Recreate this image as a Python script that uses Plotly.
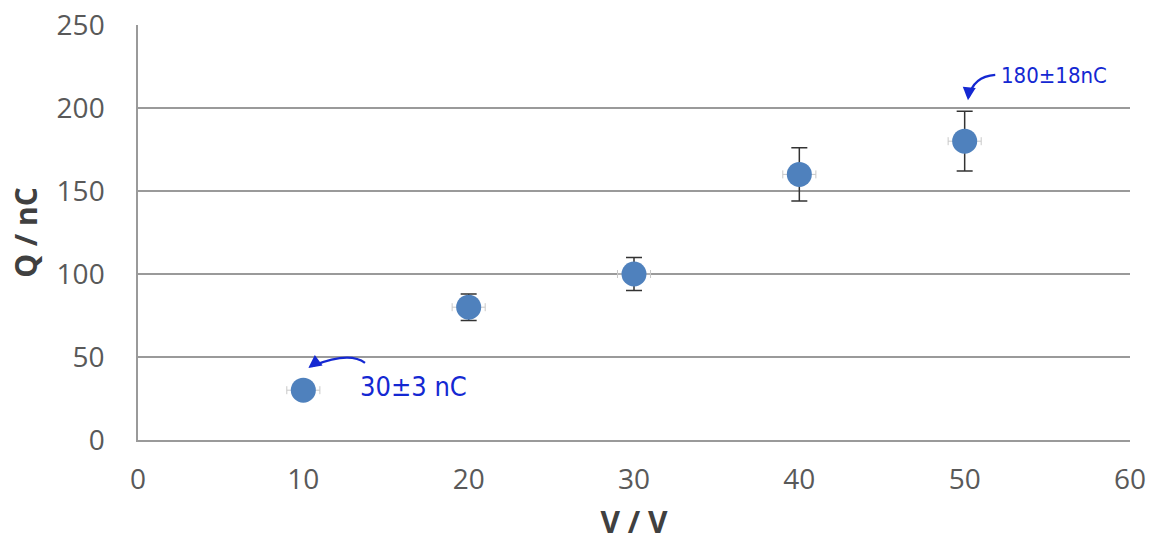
import plotly.graph_objects as go

voltage = [10, 20, 30, 40, 50]
charge = [30, 80, 100, 160, 180]
charge_err = [3, 8, 10, 16, 18]
voltage_err = [1, 1, 1, 1, 1]

x_ticks = [0, 10, 20, 30, 40, 50, 60]
y_ticks = [0, 50, 100, 150, 200, 250]

fig = go.Figure()

# faint horizontal (voltage) error bars
fig.add_trace(go.Scatter(
    x=voltage, y=charge, mode="markers",
    marker=dict(size=1, color="rgba(0,0,0,0)"),
    error_x=dict(type="data", array=voltage_err, color="#c8c8c8", thickness=1, width=4),
    showlegend=False, hoverinfo="skip"))

fig.add_trace(go.Scatter(
    x=voltage, y=charge, mode="markers",
    marker=dict(size=25, color="#4F81BD", line=dict(width=0)),
    error_y=dict(type="data", array=charge_err, color="#333333", thickness=1.5, width=8),
    showlegend=False))

hand_font = dict(family="DejaVu Sans Condensed, DejaVu Sans, sans-serif",
                 size=27, color="#1428D2")
hand_font_small = dict(family="DejaVu Sans Condensed, DejaVu Sans, sans-serif",
                       size=22, color="#1428D2")

fig.add_annotation(x=16.65, y=32.5, text="30±3 nC", showarrow=False, font=hand_font)
fig.add_annotation(x=55.4, y=219.3, text="180±18nC", showarrow=False, font=hand_font_small)

# curved arrow bodies
fig.add_shape(type="path", path="M 13.73 46.4 Q 12.8 53.5 10.6 44.8",
              line=dict(color="#1428D2", width=2.2))
fig.add_shape(type="path", path="M 51.85 220 Q 50.5 219 50.25 206.5",
              line=dict(color="#1428D2", width=2.2))
# arrowheads
fig.add_annotation(x=10.3, y=43.3, ax=8, ay=-6, text="", showarrow=True,
                   arrowhead=2, arrowsize=1.3, arrowwidth=2, arrowcolor="#1428D2")
fig.add_annotation(x=50.2, y=204.6, ax=1, ay=-10, text="", showarrow=True,
                   arrowhead=2, arrowsize=1.3, arrowwidth=2, arrowcolor="#1428D2")

axis_font = dict(family="Open Sans, Liberation Sans, sans-serif", size=28, color="#595959")
title_font = dict(family="Open Sans, Liberation Sans, sans-serif", size=30, color="#404040")

fig.update_layout(
    width=1154, height=542,
    margin=dict(l=138, r=24, t=25, b=102),
    paper_bgcolor="white", plot_bgcolor="white",
    xaxis=dict(range=[0, 60], tickvals=x_ticks, ticktext=[str(v) for v in x_ticks],
               automargin=False,
               showgrid=False, zeroline=False, showline=True, linecolor="#9a9a9a", linewidth=1.5,
               ticks="", tickfont=axis_font, ticklabelstandoff=14,
               title=dict(text="<b>V / V</b>", font=title_font, standoff=20)),
    yaxis=dict(range=[0, 250], tickvals=y_ticks, ticktext=[str(v) for v in y_ticks],
               automargin=False,
               showgrid=True, gridcolor="#9a9a9a", gridwidth=1.5, zeroline=False,
               showline=True, linecolor="#9a9a9a", linewidth=1.5,
               ticks="", tickfont=axis_font, ticklabelstandoff=26,
               title=dict(text="<b>Q / nC</b>", font=title_font, standoff=10)),
)

fig.write_html("out.html")
